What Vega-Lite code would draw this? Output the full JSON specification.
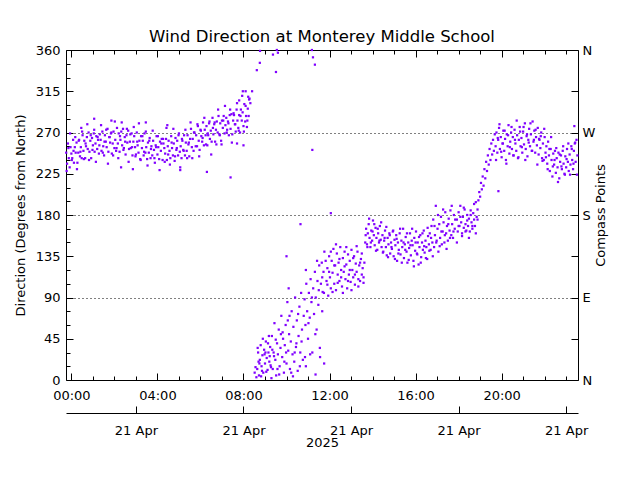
{
"$schema": "https://vega.github.io/schema/vega-lite/v6.json",
"autosize": {"type": "none"},
"padding": {"left": 66, "top": 50, "right": 62, "bottom": 100},
"width": 512,
"height": 330,
"title": {"text": "Wind Direction at Monterey Middle School", "font": "DejaVu Sans", "fontSize": 16.5, "fontWeight": "normal", "color": "black", "anchor": "middle", "offset": -1},
"config": {
  "view": {"stroke": null},
  "axis": {"domainColor": "black", "tickColor": "black", "labelColor": "black", "titleColor": "black", "labelFont": "DejaVu Sans", "titleFont": "DejaVu Sans", "labelFontSize": 13, "titleFontSize": 13, "titleFontWeight": "normal", "labelFlush": false, "labelOverlap": false, "labelBound": false, "grid": false, "domainWidth": 1, "tickWidth": 1}
},
"data": {"values": [
{"h":-0.24,"d":248},{"h":-0.20,"d":236},{"h":-0.16,"d":258},{"h":-0.12,"d":242},{"h":-0.08,"d":232},{"h":-0.04,"d":254},{"h":0.00,"d":247},{"h":0.04,"d":242},{"h":0.08,"d":262},{"h":0.12,"d":237},{"h":0.16,"d":254},{"h":0.20,"d":248},{"h":0.24,"d":259},{"h":0.28,"d":237},{"h":0.32,"d":248},{"h":0.36,"d":262},{"h":0.40,"d":244},{"h":0.44,"d":254},{"h":0.48,"d":242},{"h":0.52,"d":267},{"h":0.56,"d":250},{"h":0.60,"d":261},{"h":0.64,"d":242},{"h":0.68,"d":255},{"h":0.72,"d":265},{"h":0.46,"d":275},
{"h":0.76,"d":252},{"h":0.80,"d":270},{"h":0.84,"d":249},{"h":0.88,"d":261},{"h":0.92,"d":242},{"h":0.96,"d":264},{"h":1.00,"d":256},{"h":1.04,"d":269},{"h":1.08,"d":249},{"h":1.12,"d":258},{"h":1.16,"d":266},{"h":1.20,"d":252},{"h":1.24,"d":262},{"h":1.28,"d":247},{"h":1.32,"d":268},{"h":1.36,"d":262},{"h":1.40,"d":250},{"h":1.44,"d":271},{"h":1.48,"d":255},{"h":1.52,"d":245},{"h":1.56,"d":267},{"h":1.60,"d":260},{"h":1.64,"d":254},{"h":1.68,"d":274},{"h":1.72,"d":249},{"h":1.76,"d":265},{"h":1.80,"d":259},{"h":1.84,"d":269},{"h":1.88,"d":247},{"h":1.92,"d":258},{"h":1.96,"d":271},{"h":2.00,"d":253},{"h":2.04,"d":262},{"h":2.08,"d":250},{"h":2.12,"d":275},{"h":2.16,"d":258},{"h":2.20,"d":269},{"h":2.24,"d":249},{"h":2.28,"d":262},{"h":2.32,"d":271},{"h":2.36,"d":256},{"h":2.40,"d":274},{"h":2.44,"d":253},{"h":2.48,"d":265},{"h":2.52,"d":246},{"h":2.56,"d":267},{"h":2.60,"d":259},{"h":2.64,"d":272},{"h":2.68,"d":252},{"h":2.72,"d":260},{"h":1.06,"d":285},{"h":1.86,"d":283},{"h":2.31,"d":232},
{"h":2.76,"d":253},{"h":2.80,"d":269},{"h":2.84,"d":245},{"h":2.88,"d":260},{"h":2.92,"d":266},{"h":2.96,"d":254},{"h":3.00,"d":246},{"h":3.04,"d":270},{"h":3.08,"d":256},{"h":3.12,"d":248},{"h":3.16,"d":261},{"h":3.20,"d":241},{"h":3.24,"d":266},{"h":3.28,"d":253},{"h":3.32,"d":261},{"h":3.36,"d":245},{"h":3.40,"d":269},{"h":3.44,"d":248},{"h":3.48,"d":254},{"h":3.52,"d":241},{"h":3.56,"d":259},{"h":3.60,"d":248},{"h":3.64,"d":264},{"h":3.68,"d":242},{"h":3.72,"d":255},{"h":3.76,"d":245},{"h":3.80,"d":261},{"h":3.84,"d":251},{"h":3.88,"d":237},{"h":3.92,"d":256},{"h":3.96,"d":266},{"h":4.00,"d":246},{"h":4.04,"d":254},{"h":4.08,"d":241},{"h":4.12,"d":260},{"h":4.16,"d":250},{"h":4.20,"d":263},{"h":4.24,"d":240},{"h":4.28,"d":258},{"h":4.32,"d":253},{"h":4.36,"d":247},{"h":4.40,"d":263},{"h":4.44,"d":240},{"h":4.48,"d":255},{"h":4.52,"d":261},{"h":4.56,"d":250},{"h":4.60,"d":242},{"h":4.64,"d":266},{"h":4.68,"d":253},{"h":4.72,"d":245},{"h":4.76,"d":258},{"h":4.80,"d":239},{"h":4.84,"d":264},{"h":4.88,"d":251},{"h":4.92,"d":261},{"h":4.96,"d":245},{"h":5.00,"d":269},{"h":5.04,"d":249},{"h":5.08,"d":255},{"h":5.12,"d":242},{"h":5.16,"d":261},{"h":5.20,"d":251},{"h":5.24,"d":267},{"h":5.28,"d":245},{"h":5.32,"d":259},{"h":5.36,"d":250},{"h":5.40,"d":267},{"h":5.44,"d":257},{"h":5.48,"d":244},{"h":5.52,"d":263},{"h":5.56,"d":274},{"h":5.60,"d":254},{"h":5.64,"d":263},{"h":5.68,"d":250},{"h":5.72,"d":270},{"h":2.86,"d":230},{"h":4.46,"d":278},{"h":5.06,"d":229},{"h":3.46,"d":281},
{"h":5.80,"d":267},{"h":5.84,"d":255},{"h":5.88,"d":277},{"h":5.92,"d":261},{"h":5.96,"d":251},{"h":6.00,"d":273},{"h":6.04,"d":266},{"h":6.08,"d":260},{"h":6.12,"d":281},{"h":6.16,"d":256},{"h":6.20,"d":273},{"h":6.24,"d":267},{"h":6.28,"d":277},{"h":6.32,"d":256},{"h":6.36,"d":267},{"h":6.40,"d":280},{"h":6.44,"d":263},{"h":6.48,"d":272},{"h":6.52,"d":260},{"h":6.56,"d":286},{"h":6.60,"d":268},{"h":6.64,"d":279},{"h":6.68,"d":260},{"h":6.72,"d":273},{"h":6.76,"d":282},{"h":6.30,"d":227},
{"h":6.80,"d":270},{"h":6.84,"d":288},{"h":6.88,"d":268},{"h":6.92,"d":280},{"h":6.96,"d":261},{"h":7.00,"d":283},{"h":7.04,"d":275},{"h":7.08,"d":288},{"h":7.12,"d":269},{"h":7.16,"d":278},{"h":7.20,"d":286},{"h":7.24,"d":273},{"h":7.28,"d":282},{"h":7.32,"d":267},{"h":7.36,"d":289},{"h":7.40,"d":274},{"h":7.44,"d":290},{"h":7.48,"d":268},{"h":7.52,"d":283},{"h":7.56,"d":289},{"h":7.60,"d":279},{"h":7.64,"d":271},{"h":7.68,"d":295},{"h":7.72,"d":283},{"h":7.76,"d":275},{"h":7.80,"d":289},{"h":7.84,"d":270},{"h":7.88,"d":295},{"h":7.92,"d":283},{"h":7.96,"d":292},{"h":8.00,"d":277},{"h":8.04,"d":301},{"h":8.08,"d":282},{"h":8.12,"d":288},{"h":8.16,"d":276},{"h":8.20,"d":296},{"h":8.24,"d":288},{"h":8.28,"d":307},{"h":7.40,"d":221},{"h":8.00,"d":256},{"h":7.70,"d":258},{"h":7.80,"d":305},{"h":8.10,"d":315},{"h":8.22,"d":309},{"h":7.97,"d":315},
{"h":-0.22,"d":228},{"h":-0.14,"d":253},{"h":-0.06,"d":269},{"h":0.02,"d":240},{"h":0.10,"d":250},{"h":0.18,"d":265},{"h":0.26,"d":230},{"h":0.34,"d":261},{"h":0.42,"d":249},{"h":0.50,"d":271},{"h":0.58,"d":241},{"h":0.66,"d":258},{"h":0.74,"d":279},{"h":0.82,"d":240},{"h":0.90,"d":267},{"h":0.98,"d":251},{"h":1.06,"d":273},{"h":1.14,"d":238},{"h":1.22,"d":265},{"h":1.30,"d":256},{"h":1.38,"d":278},{"h":1.46,"d":248},{"h":1.54,"d":260},{"h":1.62,"d":273},{"h":1.70,"d":236},{"h":1.78,"d":265},{"h":1.86,"d":270},{"h":1.94,"d":245},{"h":2.02,"d":282},{"h":2.10,"d":253},{"h":2.18,"d":242},{"h":2.26,"d":266},{"h":2.34,"d":281},{"h":2.42,"d":251},{"h":2.50,"d":260},{"h":2.58,"d":274},{"h":2.66,"d":238},{"h":2.74,"d":268},{"h":2.82,"d":254},{"h":2.90,"d":276},{"h":2.98,"d":244},{"h":3.06,"d":260},{"h":3.14,"d":280},{"h":3.22,"d":240},{"h":3.30,"d":266},{"h":3.38,"d":249},{"h":3.46,"d":271},{"h":3.54,"d":234},{"h":3.62,"d":261},{"h":3.70,"d":252},{"h":3.78,"d":272},{"h":3.86,"d":242},{"h":3.94,"d":254},{"h":4.02,"d":266},{"h":4.10,"d":229},{"h":4.18,"d":258},{"h":4.26,"d":263},{"h":4.34,"d":238},{"h":4.42,"d":275},{"h":4.50,"d":246},{"h":4.58,"d":235},{"h":4.66,"d":259},{"h":4.74,"d":274},{"h":4.82,"d":244},{"h":4.90,"d":253},{"h":4.98,"d":267},{"h":5.06,"d":232},{"h":5.14,"d":263},{"h":5.22,"d":250},{"h":5.30,"d":273},{"h":5.38,"d":242},{"h":5.46,"d":259},{"h":5.54,"d":281},{"h":5.62,"d":242},{"h":5.70,"d":270},{"h":5.78,"d":255},{"h":5.86,"d":279},{"h":5.94,"d":244},{"h":6.02,"d":272},{"h":6.10,"d":264},{"h":6.18,"d":286},{"h":6.26,"d":257},{"h":6.34,"d":269},{"h":6.42,"d":282},{"h":6.50,"d":246},{"h":6.58,"d":275},{"h":6.66,"d":281},{"h":6.74,"d":257},{"h":6.82,"d":295},{"h":6.90,"d":267},{"h":6.98,"d":257},{"h":7.06,"d":283},{"h":7.14,"d":299},{"h":7.22,"d":270},{"h":7.30,"d":280},{"h":7.38,"d":295},{"h":7.46,"d":259},{"h":7.54,"d":291},{"h":7.62,"d":279},{"h":7.70,"d":302},{"h":7.78,"d":272},{"h":7.86,"d":288},{"h":7.94,"d":310},{"h":8.02,"d":271},{"h":8.10,"d":299},{"h":8.18,"d":283},{"h":8.26,"d":306},
{"h":8.32,"d":302},{"h":8.40,"d":315},{"h":8.52,"d":8},{"h":8.56,"d":14},{"h":8.60,"d":3},
{"h":8.62,"d":338},{"h":8.76,"d":346},{"h":8.77,"d":359},{"h":9.37,"d":355},{"h":9.60,"d":357},{"h":9.55,"d":360},{"h":9.51,"d":336},{"h":11.23,"d":352},{"h":11.32,"d":344},{"h":11.18,"d":360},
{"h":8.64,"d":12},{"h":8.68,"d":30},{"h":8.72,"d":5},{"h":8.76,"d":22},{"h":8.80,"d":38},{"h":8.84,"d":15},{"h":8.88,"d":27},{"h":8.92,"d":8},{"h":8.96,"d":33},{"h":9.00,"d":18},{"h":9.04,"d":42},{"h":9.08,"d":24},{"h":9.12,"d":11},{"h":9.16,"d":30},{"h":9.20,"d":20},{"h":9.24,"d":36},{"h":9.28,"d":14},{"h":8.66,"d":35},{"h":8.74,"d":18},{"h":8.82,"d":4},{"h":8.90,"d":45},{"h":8.98,"d":28},{"h":9.06,"d":9},{"h":9.14,"d":40},{"h":9.22,"d":26},{"h":9.30,"d":2},
{"h":8.70,"d":20},{"h":8.86,"d":10},{"h":9.02,"d":30},{"h":9.18,"d":48},{"h":9.26,"d":16},{"h":9.42,"d":26},{"h":9.58,"d":12},{"h":9.74,"d":50},{"h":9.90,"d":20},{"h":10.06,"d":65},{"h":10.22,"d":8},{"h":10.38,"d":30},{"h":10.54,"d":72},{"h":10.70,"d":42},{"h":10.86,"d":25},{"h":11.02,"d":62},{"h":11.18,"d":90},{"h":11.34,"d":50},{"h":11.50,"d":98},{"h":11.66,"d":75},{"h":10.10,"d":100},{"h":10.90,"d":120},{"h":11.42,"d":130},
{"h":9.32,"d":48},{"h":9.36,"d":12},{"h":9.40,"d":30},{"h":9.44,"d":62},{"h":9.48,"d":22},{"h":9.52,"d":5},{"h":9.56,"d":40},{"h":9.60,"d":28},{"h":9.64,"d":55},{"h":9.68,"d":15},{"h":9.72,"d":35},{"h":9.76,"d":70},{"h":9.80,"d":25},{"h":9.84,"d":45},{"h":9.88,"d":8},{"h":9.92,"d":38},{"h":9.96,"d":60},{"h":10.00,"d":18},{"h":10.04,"d":85},{"h":10.08,"d":32},{"h":10.12,"d":50},{"h":10.16,"d":12},{"h":10.20,"d":42},{"h":10.24,"d":75},{"h":10.28,"d":28},{"h":10.32,"d":58},{"h":10.36,"d":20},{"h":10.40,"d":90},{"h":10.44,"d":36},{"h":10.48,"d":65},{"h":10.52,"d":10},{"h":10.56,"d":48},{"h":10.60,"d":80},{"h":10.64,"d":30},{"h":10.68,"d":95},{"h":10.72,"d":55},{"h":10.76,"d":22},{"h":10.80,"d":70},{"h":9.34,"d":33},{"h":9.50,"d":44},{"h":9.66,"d":6},{"h":9.82,"d":52},{"h":9.98,"d":30},{"h":10.14,"d":70},{"h":10.30,"d":4},{"h":10.46,"d":40},{"h":10.62,"d":15},
{"h":10.00,"d":135},{"h":10.65,"d":170},{"h":12.06,"d":182},{"h":11.20,"d":251},{"h":10.90,"d":15},{"h":11.10,"d":28},{"h":11.35,"d":6},{"h":11.55,"d":35},{"h":11.75,"d":18},
{"h":10.84,"d":88},{"h":10.88,"d":60},{"h":10.92,"d":105},{"h":10.96,"d":75},{"h":11.00,"d":45},{"h":11.04,"d":95},{"h":11.08,"d":68},{"h":11.12,"d":110},{"h":11.16,"d":85},{"h":11.20,"d":30},{"h":11.24,"d":100},{"h":11.28,"d":72},{"h":11.32,"d":118},{"h":11.36,"d":90},{"h":11.40,"d":55},{"h":11.44,"d":108},{"h":11.48,"d":82},{"h":11.52,"d":125},{"h":11.56,"d":25},
{"h":11.60,"d":105},{"h":11.64,"d":128},{"h":11.68,"d":96},{"h":11.72,"d":118},{"h":11.76,"d":140},{"h":11.86,"d":108},{"h":11.90,"d":122},{"h":11.94,"d":92},{"h":11.98,"d":135},{"h":12.02,"d":112},{"h":12.06,"d":100},{"h":12.10,"d":130},{"h":12.14,"d":117},{"h":12.18,"d":143},{"h":12.22,"d":105},{"h":12.26,"d":125},{"h":12.30,"d":98},{"h":12.34,"d":138},{"h":12.38,"d":115},{"h":12.42,"d":128},{"h":12.46,"d":108},{"h":12.50,"d":145},{"h":12.54,"d":120},{"h":12.58,"d":102},{"h":12.62,"d":133},{"h":12.66,"d":118},{"h":12.70,"d":140},{"h":12.74,"d":110},{"h":12.78,"d":126},{"h":12.82,"d":100},{"h":12.86,"d":137},{"h":12.90,"d":115},{"h":12.94,"d":130},{"h":12.98,"d":107},{"h":13.02,"d":142},{"h":13.06,"d":120},{"h":13.10,"d":112},{"h":13.14,"d":135},{"h":13.18,"d":104},{"h":13.22,"d":127},{"h":13.26,"d":118},{"h":13.30,"d":140},{"h":13.34,"d":110},{"h":13.38,"d":125},{"h":13.42,"d":108},{"h":13.46,"d":132},{"h":13.50,"d":115},{"h":13.54,"d":122},{"h":13.58,"d":106},{"h":13.62,"d":128},
{"h":11.66,"d":112},{"h":11.74,"d":95},{"h":11.82,"d":130},{"h":11.90,"d":104},{"h":11.98,"d":118},{"h":12.06,"d":140},{"h":12.14,"d":96},{"h":12.22,"d":125},{"h":12.30,"d":148},{"h":12.38,"d":106},{"h":12.46,"d":132},{"h":12.54,"d":112},{"h":12.62,"d":95},{"h":12.70,"d":124},{"h":12.78,"d":145},{"h":12.86,"d":108},{"h":12.94,"d":120},{"h":13.02,"d":98},{"h":13.10,"d":133},{"h":13.18,"d":115},{"h":13.26,"d":146},{"h":13.34,"d":102},{"h":13.42,"d":128},{"h":13.50,"d":138},{"h":13.58,"d":112},
{"h":13.66,"d":150},{"h":13.70,"d":165},{"h":13.74,"d":148},{"h":13.78,"d":160},{"h":13.82,"d":170},{"h":13.86,"d":155},{"h":13.90,"d":145},{"h":13.94,"d":163},{"h":13.98,"d":152},{"h":14.02,"d":174},{"h":14.06,"d":158},{"h":14.10,"d":147},{"h":14.14,"d":166},{"h":14.18,"d":155},{"h":14.22,"d":142},{"h":14.26,"d":160},{"h":14.30,"d":150},{"h":14.34,"d":168},{"h":14.38,"d":153},{"h":14.42,"d":145},
{"h":14.46,"d":158},{"h":14.50,"d":140},{"h":14.54,"d":152},{"h":14.58,"d":163},{"h":14.62,"d":145},{"h":14.66,"d":136},{"h":14.70,"d":155},{"h":14.74,"d":148},{"h":14.78,"d":160},{"h":14.82,"d":138},{"h":14.86,"d":150},{"h":14.90,"d":143},{"h":14.94,"d":162},{"h":14.98,"d":135},{"h":15.02,"d":153},{"h":15.06,"d":147},{"h":15.10,"d":158},{"h":15.14,"d":130},{"h":15.18,"d":150},{"h":15.22,"d":142},{"h":15.26,"d":160},{"h":15.30,"d":137},{"h":15.34,"d":152},{"h":15.38,"d":145},{"h":15.42,"d":165},{"h":15.46,"d":133},{"h":15.50,"d":148},{"h":15.54,"d":156},{"h":15.58,"d":140},{"h":15.62,"d":128},{"h":15.66,"d":150},{"h":15.70,"d":144},{"h":15.74,"d":160},{"h":15.78,"d":136},{"h":15.82,"d":152},{"h":15.86,"d":147},{"h":15.90,"d":130},{"h":15.94,"d":155},{"h":15.98,"d":141},{"h":16.02,"d":162},{"h":16.06,"d":138},{"h":16.10,"d":150},{"h":16.14,"d":126},{"h":16.18,"d":145},{"h":16.22,"d":158},{"h":16.26,"d":134},{"h":16.30,"d":150},{"h":16.34,"d":142},{"h":16.38,"d":163},{"h":16.42,"d":139},{"h":16.46,"d":152},{"h":16.50,"d":145},{"h":16.54,"d":132},{"h":16.58,"d":157},{"h":16.62,"d":148},
{"h":16.66,"d":160},{"h":16.70,"d":142},{"h":16.74,"d":168},{"h":16.78,"d":150},{"h":16.82,"d":175},{"h":16.86,"d":145},{"h":16.90,"d":158},{"h":16.94,"d":190},{"h":16.98,"d":152},{"h":17.02,"d":165},{"h":17.06,"d":140},{"h":17.10,"d":170},{"h":17.14,"d":155},{"h":17.18,"d":178},{"h":17.22,"d":148},{"h":17.26,"d":162},{"h":17.30,"d":172},{"h":17.34,"d":150},{"h":17.38,"d":183},{"h":17.42,"d":160},{"h":17.46,"d":168},{"h":17.50,"d":152},{"h":17.54,"d":176},{"h":17.58,"d":163},{"h":17.62,"d":185},{"h":17.66,"d":158},{"h":17.70,"d":170},{"h":17.74,"d":155},{"h":17.78,"d":180},{"h":17.82,"d":165},
{"h":17.92,"d":175},{"h":17.96,"d":162},{"h":18.00,"d":183},{"h":18.04,"d":168},{"h":18.08,"d":190},{"h":18.12,"d":172},{"h":18.16,"d":160},{"h":18.20,"d":178},{"h":18.24,"d":166},{"h":18.28,"d":186},{"h":18.32,"d":170},{"h":18.36,"d":163},{"h":18.40,"d":180},{"h":18.44,"d":168},{"h":18.48,"d":176},{"h":18.52,"d":162},{"h":18.56,"d":185},{"h":18.60,"d":172},{"h":18.64,"d":165},{"h":18.68,"d":182},{"h":18.72,"d":175},{"h":18.76,"d":168},{"h":18.80,"d":194},{"h":18.84,"d":178},{"h":18.88,"d":186},
{"h":13.68,"d":158},{"h":13.76,"d":145},{"h":13.84,"d":176},{"h":13.92,"d":150},{"h":14.00,"d":162},{"h":14.08,"d":170},{"h":14.16,"d":141},{"h":14.24,"d":165},{"h":14.32,"d":152},{"h":14.40,"d":172},{"h":14.48,"d":139},{"h":14.56,"d":155},{"h":14.64,"d":167},{"h":14.72,"d":134},{"h":14.80,"d":158},{"h":14.88,"d":145},{"h":14.96,"d":163},{"h":15.04,"d":132},{"h":15.12,"d":154},{"h":15.20,"d":138},{"h":15.28,"d":165},{"h":15.36,"d":128},{"h":15.44,"d":150},{"h":15.52,"d":142},{"h":15.60,"d":160},{"h":15.68,"d":131},{"h":15.76,"d":147},{"h":15.84,"d":165},{"h":15.92,"d":124},{"h":16.00,"d":150},{"h":16.08,"d":137},{"h":16.16,"d":156},{"h":16.24,"d":128},{"h":16.32,"d":160},{"h":16.40,"d":146},{"h":16.48,"d":133},{"h":16.56,"d":166},{"h":16.64,"d":141},{"h":16.72,"d":155},{"h":16.80,"d":135},{"h":16.88,"d":168},{"h":16.96,"d":150},{"h":17.04,"d":180},{"h":17.12,"d":146},{"h":17.20,"d":162},{"h":17.28,"d":186},{"h":17.36,"d":158},{"h":17.44,"d":143},{"h":17.52,"d":170},{"h":17.60,"d":155},{"h":17.68,"d":190},{"h":17.76,"d":162},{"h":17.84,"d":175},{"h":17.92,"d":150},{"h":18.00,"d":168},{"h":18.08,"d":178},{"h":18.16,"d":157},{"h":18.24,"d":188},{"h":18.32,"d":162},{"h":18.40,"d":174},{"h":18.48,"d":155},{"h":18.56,"d":180},{"h":18.64,"d":168},{"h":18.72,"d":192},{"h":18.80,"d":160},{"h":18.88,"d":175},
{"h":18.92,"d":196},{"h":18.96,"d":205},{"h":19.00,"d":200},{"h":19.04,"d":215},{"h":19.08,"d":208},{"h":19.12,"d":222},{"h":19.16,"d":212},{"h":19.20,"d":230},{"h":19.24,"d":220},{"h":19.28,"d":238},{"h":19.32,"d":228},{"h":19.36,"d":245},{"h":19.40,"d":235},{"h":19.44,"d":252},{"h":19.48,"d":240},{"h":19.52,"d":258},{"h":19.56,"d":246},{"h":19.60,"d":262},{"h":19.64,"d":250},{"h":19.68,"d":268},{"h":19.85,"d":206},
{"h":19.72,"d":255},{"h":19.76,"d":270},{"h":19.80,"d":248},{"h":19.84,"d":262},{"h":19.88,"d":275},{"h":19.92,"d":252},{"h":19.96,"d":265},{"h":20.00,"d":243},{"h":20.04,"d":258},{"h":20.08,"d":272},{"h":20.12,"d":250},{"h":20.16,"d":263},{"h":20.20,"d":240},{"h":20.24,"d":268},{"h":20.28,"d":255},{"h":20.32,"d":278},{"h":20.36,"d":247},{"h":20.40,"d":260},{"h":20.44,"d":270},{"h":20.48,"d":252},{"h":20.52,"d":265},{"h":20.56,"d":245},{"h":20.60,"d":273},{"h":20.64,"d":258},{"h":20.68,"d":250},{"h":20.72,"d":267},{"h":20.76,"d":242},{"h":20.80,"d":262},{"h":20.84,"d":276},{"h":20.88,"d":255},{"h":20.92,"d":264},{"h":20.96,"d":248},{"h":21.00,"d":271},{"h":21.04,"d":257},{"h":21.08,"d":280},{"h":21.12,"d":252},{"h":21.16,"d":266},{"h":21.20,"d":244},{"h":21.24,"d":262},{"h":21.28,"d":274},{"h":21.32,"d":255},{"h":21.36,"d":268},{"h":21.40,"d":250},{"h":21.44,"d":282},{"h":21.48,"d":260},{"h":21.52,"d":272},{"h":21.56,"d":248},{"h":21.60,"d":265},{"h":21.64,"d":256},{"h":21.68,"d":275},{"h":21.72,"d":246},{"h":21.76,"d":262},{"h":21.80,"d":253},{"h":21.84,"d":270},{"h":21.88,"d":242},
{"h":21.92,"d":258},{"h":21.96,"d":240},{"h":22.00,"d":265},{"h":22.04,"d":248},{"h":22.08,"d":255},{"h":22.12,"d":236},{"h":22.16,"d":260},{"h":22.20,"d":245},{"h":22.24,"d":228},{"h":22.28,"d":252},{"h":22.32,"d":240},{"h":22.36,"d":222},{"h":22.40,"d":247},{"h":22.44,"d":235},{"h":22.48,"d":250},{"h":22.52,"d":226},{"h":22.56,"d":242},{"h":22.60,"d":232},{"h":22.64,"d":248},{"h":22.68,"d":220},{"h":22.72,"d":238},{"h":22.76,"d":245},{"h":22.80,"d":230},{"h":22.84,"d":250},{"h":22.88,"d":236},{"h":22.92,"d":225},{"h":22.96,"d":244},{"h":23.00,"d":232},{"h":23.04,"d":252},{"h":23.08,"d":238},{"h":23.12,"d":228},{"h":23.16,"d":246},{"h":23.20,"d":235},{"h":23.24,"d":255},{"h":23.28,"d":240},{"h":23.32,"d":230},{"h":23.36,"d":250},{"h":23.40,"d":258},{"h":23.44,"d":238},{"h":23.48,"d":262},{"h":23.52,"d":245},{"h":23.38,"d":277},
{"h":19.74,"d":240},{"h":19.82,"d":264},{"h":19.90,"d":279},{"h":19.98,"d":249},{"h":20.06,"d":258},{"h":20.14,"d":272},{"h":20.22,"d":236},{"h":20.30,"d":267},{"h":20.38,"d":254},{"h":20.46,"d":276},{"h":20.54,"d":245},{"h":20.62,"d":262},{"h":20.70,"d":283},{"h":20.78,"d":243},{"h":20.86,"d":271},{"h":20.94,"d":254},{"h":21.02,"d":276},{"h":21.10,"d":240},{"h":21.18,"d":268},{"h":21.26,"d":259},{"h":21.34,"d":280},{"h":21.42,"d":250},{"h":21.50,"d":262},{"h":21.58,"d":273},{"h":21.66,"d":235},{"h":21.74,"d":263},{"h":21.82,"d":266},{"h":21.90,"d":239},{"h":21.98,"d":274},{"h":22.06,"d":243},{"h":22.14,"d":230},{"h":22.22,"d":252},{"h":22.30,"d":265},{"h":22.38,"d":233},{"h":22.46,"d":240},{"h":22.54,"d":253},{"h":22.62,"d":216},{"h":22.70,"d":246},{"h":22.78,"d":233},{"h":22.86,"d":255},{"h":22.94,"d":224},{"h":23.02,"d":241},{"h":23.10,"d":258},{"h":23.18,"d":224},{"h":23.26,"d":252},{"h":23.34,"d":236},{"h":23.42,"d":259},{"h":23.50,"d":224}
]},
"layer": [
  {
    "mark": {"type": "square", "size": 5, "color": "#8000ff", "opacity": 1},
    "encoding": {
      "x": {"field": "h", "type": "quantitative", "scale": {"domain": [-0.25, 23.55], "nice": false, "zero": false},
            "axis": {"orient": "bottom", "values": [0,4,8,12,16,20], "labelExpr": "(datum.value < 10 ? '0' : '') + datum.value + ':00'", "tickSize": -7, "labelPadding": 16, "title": null, "domain": true}},
      "y": {"field": "d", "type": "quantitative", "scale": {"domain": [0, 360], "nice": false, "zero": false},
            "axis": {"orient": "left", "values": [0,45,90,135,180,225,270,315,360], "tickSize": -7, "labelPadding": 13, "title": "Direction (Degrees from North)", "titlePadding": 8, "domain": true}}
    }
  },
  {
    "mark": {"type": "point", "opacity": 0},
    "encoding": {
      "x": {"field": "h", "type": "quantitative", "scale": {"domain": [-0.25, 23.55], "nice": false, "zero": false},
            "axis": {"orient": "bottom", "values": [0,1,2,3,4,5,6,7,8,9,10,11,12,13,14,15,16,17,18,19,20,21,22,23], "tickSize": -4, "labels": false, "domain": false, "title": null}},
      "y": {"field": "d", "type": "quantitative", "scale": {"domain": [0, 360], "nice": false, "zero": false},
            "axis": {"orient": "left", "values": [15,30,60,75,105,120,150,165,195,210,240,255,285,300,330,345], "tickSize": -4, "labels": false, "domain": false, "title": null}}
    }
  },
  {
    "mark": {"type": "point", "opacity": 0},
    "encoding": {
      "x": {"field": "h", "type": "quantitative", "scale": {"domain": [-0.25, 23.55], "nice": false, "zero": false},
            "axis": {"orient": "top", "values": [0,4,8,12,16,20], "tickSize": -7, "labels": false, "domain": true, "title": null}},
      "y": {"field": "d", "type": "quantitative", "scale": {"domain": [0, 360], "nice": false, "zero": false},
            "axis": {"orient": "right", "values": [0,45,90,135,180,225,270,315,360], "labelExpr": "datum.value == 0 || datum.value == 360 ? 'N' : datum.value == 90 ? 'E' : datum.value == 180 ? 'S' : datum.value == 270 ? 'W' : ''", "tickSize": -7, "labelPadding": 11, "title": "Compass Points", "titleAngle": 270, "titleBaseline": "top", "titlePadding": 0, "domain": true}}
    }
  },
  {
    "mark": {"type": "point", "opacity": 0},
    "encoding": {
      "x": {"field": "h", "type": "quantitative", "scale": {"domain": [-0.25, 23.55], "nice": false, "zero": false},
            "axis": {"orient": "top", "values": [0,1,2,3,4,5,6,7,8,9,10,11,12,13,14,15,16,17,18,19,20,21,22,23], "tickSize": -4, "labels": false, "domain": false, "title": null}},
      "y": {"field": "d", "type": "quantitative", "scale": {"domain": [0, 360], "nice": false, "zero": false},
            "axis": {"orient": "left", "values": [90,180,270], "grid": true, "gridColor": "black", "gridOpacity": 1, "gridDash": [1,3], "gridWidth": 1, "ticks": false, "labels": false, "domain": false, "title": null}}
    }
  },
  {
    "mark": {"type": "point", "opacity": 0},
    "encoding": {
      "x": {"field": "h", "type": "quantitative", "scale": {"domain": [-0.25, 23.55], "nice": false, "zero": false},
            "axis": {"orient": "bottom", "offset": 33, "values": [3,8,13,18,23], "labelExpr": "'21 Apr'", "tickSize": -7, "labelPadding": 18, "title": "2025", "titlePadding": -1, "domain": true}}
    }
  }
],
"resolve": {"axis": {"x": "independent", "y": "independent"}}
}
